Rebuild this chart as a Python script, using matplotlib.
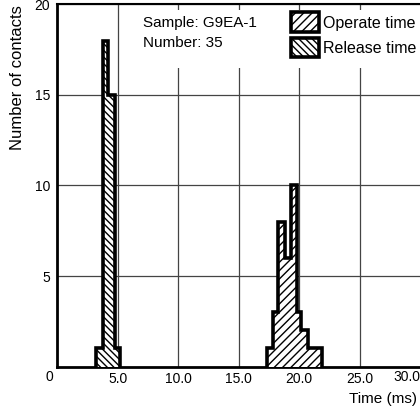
import matplotlib
matplotlib.use("Agg")
import matplotlib.pyplot as plt
from matplotlib.patches import Patch, Rectangle

plt.rcParams['font.family'] = ['Liberation Sans', 'DejaVu Sans']
plt.rcParams['hatch.linewidth'] = 1.0

# Data (bin edges in ms, counts per bin)
release_edges = [3.2, 3.8, 4.2, 4.8, 5.2]
release_counts = [1, 18, 15, 1]
operate_edges = [17.3, 17.8, 18.25, 18.8, 19.3, 19.85, 20.1, 20.75, 21.3, 21.85]
operate_counts = [1, 3, 8, 6, 10, 3, 2, 1, 1]
x_ticks = [5, 10, 15, 20, 25]
x_ticklabels = ["5.0", "10.0", "15.0", "20.0", "25.0"]
y_ticks = [5, 10, 15, 20]
y_ticklabels = ["5", "10", "15", "20"]

W, H = 420, 411
fig = plt.figure(figsize=(W / 100, H / 100), dpi=100)
ax = fig.add_axes([57.3 / W, 1 - 366.5 / H, 363 / W, 362 / H])

ax.set_xlim(0, 30)
ax.set_ylim(0, 20)

ax.stairs(operate_counts, operate_edges, fill=True, facecolor='white',
          edgecolor='black', hatch='////', linewidth=2.6, zorder=3)
ax.stairs(release_counts, release_edges, fill=True, facecolor='white',
          edgecolor='black', hatch='\\\\\\\\\\', linewidth=2.6, zorder=3)

ax.set_xticks(x_ticks)
ax.set_xticklabels(x_ticklabels)
ax.set_yticks(y_ticks)
ax.set_yticklabels(y_ticklabels)
ax.tick_params(axis='both', length=0, labelsize=10)
ax.tick_params(axis='x', pad=4)
ax.tick_params(axis='y', pad=5)
ax.grid(True, color='#444444', linewidth=0.9, zorder=1)
ax.set_axisbelow(True)

ax.spines['left'].set_linewidth(2.0)
ax.spines['bottom'].set_linewidth(2.0)
ax.spines['top'].set_linewidth(1.5)
ax.spines['right'].set_visible(False)

# white panel behind the annotation and legend (hides the grid there)
ax.add_patch(Rectangle((135 / W, 1 - 68 / H), (W - 135) / W, 58 / H,
                       transform=fig.transFigure, facecolor='white',
                       edgecolor='none', zorder=2))

# corner "0" and edge "30.0" labels
fig.text(49.3 / W, 1 - 377 / H, "0", ha='center', va='center', fontsize=10)
fig.text(406.5 / W, 1 - 377 / H, "30.0", ha='center', va='center', fontsize=10)

fig.text(18 / W, 1 - 5 / H, "Number of contacts", rotation=90,
         ha='center', va='top', fontsize=12)
fig.text(416.7 / W, 1 - 399.3 / H, "Time (ms)", ha='right', va='center', fontsize=11)

ax.text(142.7 / W, 1 - 16 / H, "Sample: G9EA-1\nNumber: 35", transform=fig.transFigure,
        ha='left', va='top', fontsize=11, linespacing=1.55, zorder=6)

handles = [Patch(facecolor='white', edgecolor='black', hatch='////', linewidth=2.6),
           Patch(facecolor='white', edgecolor='black', hatch='\\\\\\\\\\', linewidth=2.6)]
leg = ax.legend(handles, ["Operate time", "Release time"], loc='upper left',
                bbox_to_anchor=(290.8 / W, 1 - 12.5 / H), bbox_transform=fig.transFigure,
                fontsize=11.5, handlelength=1.75, handleheight=1.5, handletextpad=0.25,
                labelspacing=0.36, borderpad=0, borderaxespad=0, frameon=False)
leg.set_zorder(6)

fig.savefig("out.png", dpi=100)
